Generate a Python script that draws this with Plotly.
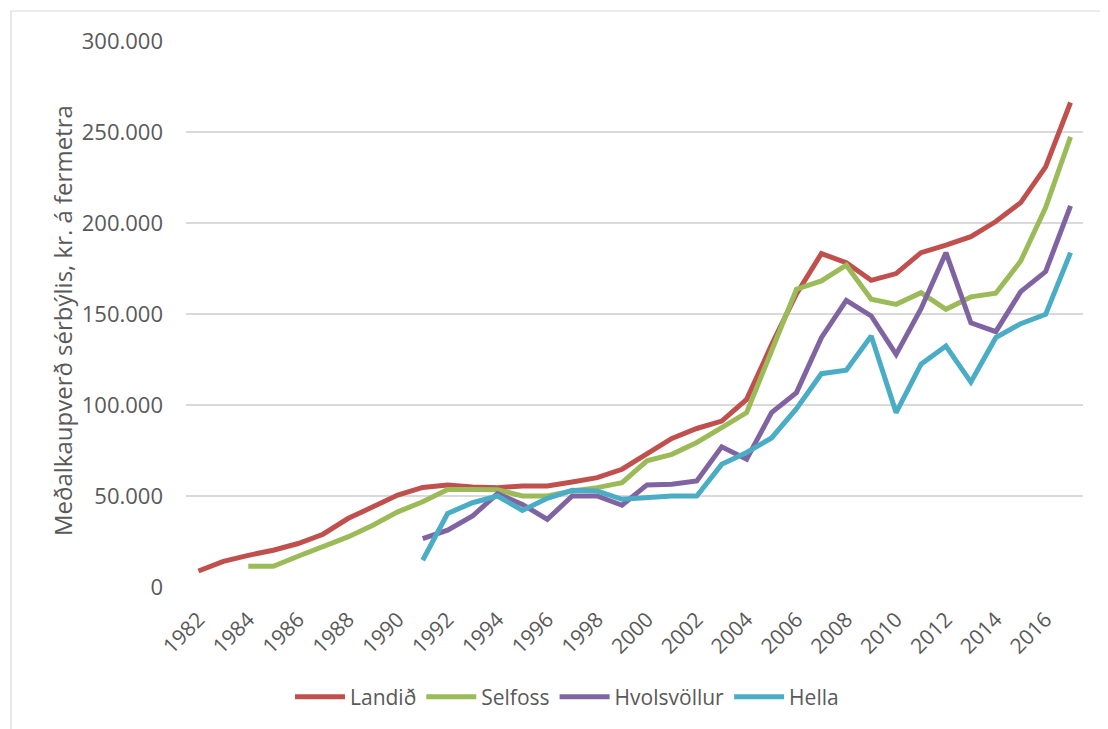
import plotly.graph_objects as go

years = list(range(1982, 2018))

landid = [8800, 14100, 17400, 20200, 23900, 29000, 37600, 44000, 50500, 54700,
          56000, 55000, 54600, 55500, 55500, 57700, 60100, 64700, 72900, 81600,
          87100, 91200, 103100, 133000, 161000, 183200, 178200, 168500, 172200, 183700,
          187900, 192500, 200800, 211200, 230800, 266200]

selfoss = [None, None, 11400, 11400, 16900, 22000, 27500, 33900, 41300, 46800,
           53600, 53600, 53500, 50000, 50000, 52800, 54600, 57300, 69300, 72900,
           79400, 87600, 95800, 129700, 163600, 168200, 176800, 158100, 155300, 161700,
           152600, 159400, 161400, 179100, 208500, 247300]

hvolsvollur = [None, None, None, None, None, None, None, None, None, 26600,
               31200, 39000, 51300, 45400, 37200, 50000, 50000, 44900, 56100, 56400,
               58300, 77000, 70200, 95800, 106800, 137000, 157500, 148900, 127800, 152900,
               183700, 145200, 140300, 162300, 173300, 209400]

hella = [None, None, None, None, None, None, None, None, None, 14700,
         40400, 46300, 50000, 42100, 48700, 53100, 52800, 48200, 49400, 50000,
         50000, 67400, 73900, 81900, 98000, 117200, 119100, 137900, 95800, 122400,
         132400, 112600, 137000, 144700, 149800, 183700]

series_names = ["Landið", "Selfoss", "Hvolsvöllur", "Hella"]
series_colors = ["#C0504D", "#9BBB59", "#8064A2", "#4BACC6"]
series_values = [landid, selfoss, hvolsvollur, hella]

x_ticks = list(range(1982, 2017, 2))
y_ticks = [0, 50000, 100000, 150000, 200000, 250000, 300000]

FONT = "Open Sans"
GRAY = "#595959"

fig = go.Figure()
for name, color, vals in zip(series_names, series_colors, series_values):
    fig.add_trace(go.Scatter(
        x=years, y=vals, name=name, mode="lines",
        line=dict(color=color, width=5),
        connectgaps=False,
    ))

OFF = 8  # page body margin
W, H = 1108 - OFF, 729 - OFF
# plot area in page pixels: x 186..1083, y 41..587
L = 186 - OFF
T = 41 - OFF
R = W - (1083 - OFF)
B = H - (587 - OFF)
pw = W - L - R
ph = H - T - B

def px_x(p):
    return (p - OFF - L) / pw

def px_y(p):
    return (H - B - (p - OFF)) / ph

fig.update_layout(
    width=W, height=H,
    margin=dict(l=L, r=R, t=T, b=B, pad=0),
    paper_bgcolor="white", plot_bgcolor="white",
    separators=",.",
    font=dict(family=FONT, color=GRAY, size=21),
    showlegend=True,
    legend=dict(orientation="h", x=px_x(567), xanchor="center",
                y=px_y(697), yanchor="middle",
                font=dict(family=FONT, size=21, color=GRAY),
                itemwidth=50, traceorder="normal"),
    xaxis=dict(range=[1981.5, 2017.5], tickmode="array", tickvals=x_ticks,
               ticktext=[str(t) for t in x_ticks], tickangle=-45,
               showgrid=False, zeroline=False, showline=False, ticks="",
               ticklabelstandoff=15,
               tickfont=dict(family=FONT, size=21, color=GRAY)),
    yaxis=dict(range=[0, 300000], tickmode="array", tickvals=y_ticks,
               tickformat=",d", showgrid=True, gridcolor="#D9D9D9", gridwidth=1.5,
               zeroline=False, showline=False, ticks="", ticklabelstandoff=22,
               tickfont=dict(family=FONT, size=22, color=GRAY)),
    annotations=[dict(text="Meðalkaupverð sérbýlis, kr. á fermetra",
                      xref="paper", yref="paper", x=px_x(62), y=px_y(321),
                      xanchor="center", yanchor="middle", textangle=-90,
                      showarrow=False, font=dict(family=FONT, size=24, color=GRAY))],
    shapes=[dict(type="rect", xref="paper", yref="paper",
                 x0=px_x(11), x1=px_x(1125), y0=px_y(11), y1=px_y(745),
                 line=dict(color="#D9D9D9", width=1.2), fillcolor="rgba(0,0,0,0)",
                 layer="below")],
)

fig.write_html("out.html")
